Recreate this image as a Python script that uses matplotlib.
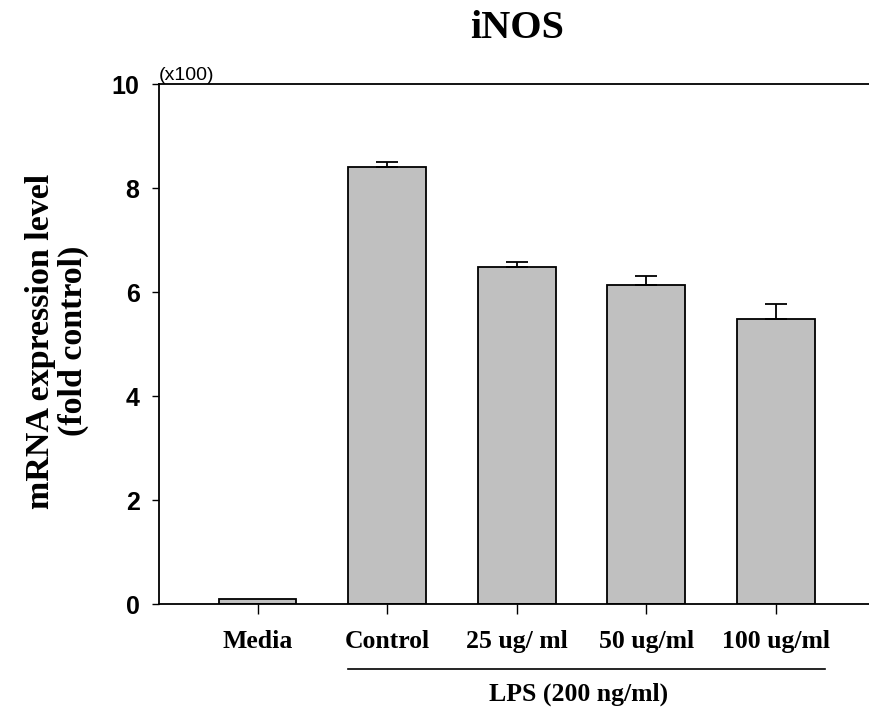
import matplotlib
matplotlib.use("Agg")
import matplotlib.pyplot as plt
import matplotlib.transforms as mtransforms

groups = ["Media", "Control", "25 ug/ ml", "50 ug/ml", "100 ug/ml"]
expression = [0.09, 8.40, 6.48, 6.13, 5.48]
errors = [0.0, 0.10, 0.10, 0.18, 0.29]
yticks = [0, 2, 4, 6, 8, 10]

serif = "Liberation Serif"
sans = "Liberation Sans"

fig = plt.figure(figsize=(8.7, 7.12), dpi=100)
ax = fig.add_axes([159 / 870, 1 - 604 / 712, 1 - 159 / 870 + 0.02, 520 / 712])

x = list(range(len(groups)))
ax.bar(x, expression, width=0.6, color="#c0c0c0", edgecolor="black",
       linewidth=1.3, zorder=2)
for xi, v, e in zip(x, expression, errors):
    if e > 0:
        ax.errorbar(xi, v, yerr=[[0], [e]], fmt="none", ecolor="black",
                    elinewidth=1.3, capsize=8, capthick=1.3, zorder=3)

ax.set_xlim(-0.76, 4.86)
ax.set_ylim(0, 10)
ax.set_yticks(yticks)
ax.set_yticklabels([str(t) for t in yticks], fontfamily=sans,
                   fontweight="bold", fontsize=18)
ax.set_xticks(x)
ax.set_xticklabels(groups, fontfamily=serif, fontweight="bold", fontsize=18.5)
ax.tick_params(axis="y", direction="out", length=5, width=1, pad=9)
ax.tick_params(axis="x", direction="out", length=7, width=1, pad=12)
for side in ["left", "bottom", "top"]:
    ax.spines[side].set_linewidth(1.3)
ax.spines["right"].set_visible(False)

# scale note above the y axis
ax.text(0, 1.0, "(x100)", transform=ax.transAxes, fontfamily=sans,
        fontsize=14, ha="left", va="bottom")

# LPS bracket under the treated groups
trans = mtransforms.blended_transform_factory(ax.transData, ax.transAxes)
ax.plot([0.7, 4.38], [-0.125, -0.125], transform=trans, color="black",
        linewidth=1.2, clip_on=False)
ax.text(2.48, -0.173, "LPS (200 ng/ml)", transform=trans, fontfamily=serif,
        fontweight="bold", fontsize=18.5, ha="center", va="center")

fig.text(57 / 870, 1 - 341 / 712, "mRNA expression level\n(fold control)",
         rotation=90, ha="center", va="center", multialignment="center",
         fontfamily=serif, fontweight="bold", fontsize=24.5, linespacing=1.05)
fig.text(517 / 870, 1 - 28 / 712, "iNOS", ha="center", va="center",
         fontfamily=serif, fontweight="bold", fontsize=29)

fig.savefig("out.png", dpi=100)
